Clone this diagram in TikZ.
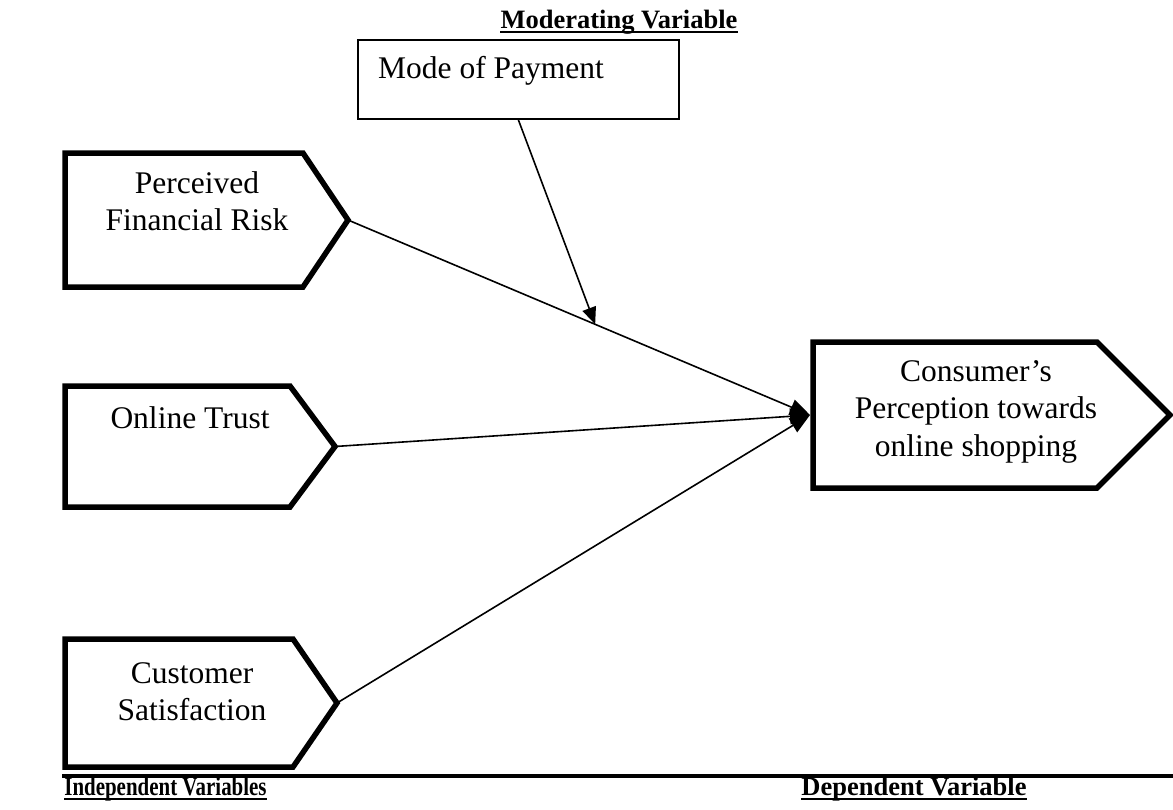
\documentclass[tikz,border=0pt]{standalone}
\usepackage{fontspec}
\setmainfont{Liberation Serif}
\usepackage{graphicx}
\usepackage{tikz}
\usetikzlibrary{arrows.meta, positioning, calc}

\tikzset{
  outline/.style={line width=5.5pt, line join=miter},
  vartext/.style={inner sep=0pt, align=center, font=\fontsize{31.5}{37.5}\selectfont},
  hdr/.style={inner sep=0pt, anchor=base, font=\bfseries\fontsize{26.5}{30}\selectfont},
  link/.style={line width=1.6pt, -{Triangle[length=20pt,width=16pt]}},
  modlink/.style={line width=1.6pt, -{Triangle[length=17pt,width=14pt]}}
}

\begin{document}
\begin{tikzpicture}[x=1pt, y=-1pt]
  \useasboundingbox (0,0) rectangle (1173,809);

  % Arrow shaped boxes: name/left/top/corner/tip/bottom
  \foreach \nm/\xl/\yt/\xc/\xt/\yb in {
    risk/65/153/303/348/287,
    trust/65/386/290/335/507,
    sat/65/639/293/337/767,
    cons/813/342/1097/1170/488
  }{
    \draw[outline] (\xl,\yt) -- (\xc,\yt) -- (\xt,{(\yt+\yb)/2}) --
      (\xc,\yb) -- (\xl,\yb) -- cycle;
    \coordinate (\nm-tip) at (\xt,{(\yt+\yb)/2});
    \coordinate (\nm-in) at (\xl-3,{(\yt+\yb)/2});
  }

  % Box texts
  \node[vartext, anchor=north] (riskLbl) at (197,171) {Perceived\\Financial Risk};
  \node[vartext, anchor=north] (trustLbl) at (190,406) {Online Trust};
  \node[vartext, anchor=north] (satLbl) at (192,662) {Customer\\Satisfaction};
  \node[vartext, anchor=north] (consLbl) at (976,360) {Consumer’s\\Perception towards\\online shopping};

  % Moderating variable
  \node[draw, line width=1.5pt, inner sep=0pt, anchor=north west,
        minimum width=321pt, minimum height=79pt] (mode) at (357,39) {};
  \node[vartext, anchor=north west] (modeLbl) at (378,56) {Mode of Payment};

  % Connectors
  \draw[link] (risk-tip) -- (cons-in) coordinate[pos=0.535] (modPt);
  \draw[link] (trust-tip) -- (cons-in);
  \draw[link] (sat-tip) -- (cons-in);
  \draw[modlink] (mode.south) -- (modPt);

  % Headings
  \draw[line width=4pt] (62,776) -- (1173,776);
  \node[hdr] (modHdr) at (619,28) {Moderating Variable};
  \node[hdr] (indHdr) at (165.5,795) {\scalebox{0.79}[1]{Independent Variables}};
  \node[hdr] (depHdr) at (914,795) {Dependent Variable};
  \foreach \h in {modHdr,indHdr,depHdr}
    \draw[line width=2.5pt] ([yshift=-4pt]\h.base west) -- ([yshift=-4pt]\h.base east);
\end{tikzpicture}
\end{document}
